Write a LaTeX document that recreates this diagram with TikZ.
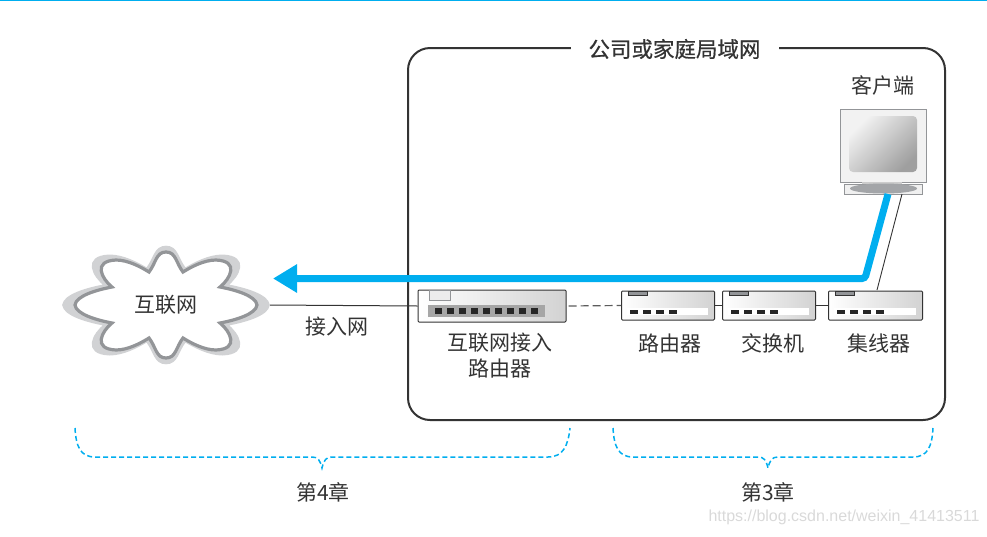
\documentclass[tikz,border=0pt]{standalone}
\usepackage{fontspec}
\usepackage{tikz}
\usetikzlibrary{arrows.meta}
\setmainfont{Noto Sans CJK SC}
\newfontfamily\titlefont[FakeBold=0.6]{Noto Sans CJK SC}
\newfontfamily\markfont{Liberation Sans}
\definecolor{netblue}{HTML}{00AEEF}
\definecolor{haze}{HTML}{D1D2D4}
\definecolor{rim}{HTML}{939598}
\definecolor{ink}{HTML}{333333}
\newcommand{\cloudpath}{(91,0) .. controls (90,-9) and (70,-15) .. (54,-18) .. controls (64,-26) and (74,-44) .. (50,-45) .. controls (38,-45) and (25,-38) .. (17,-33) .. controls (10,-42) and (10,-53) .. (0,-53)
	.. controls (-10,-53) and (-10,-42) .. (-17,-33) .. controls (-25,-38) and (-38,-45) .. (-50,-45) .. controls (-74,-44) and (-64,-26) .. (-54,-18) .. controls (-70,-15) and (-90,-9) .. (-91,0)
	.. controls (-90,9) and (-70,15) .. (-54,18) .. controls (-64,26) and (-74,44) .. (-50,45) .. controls (-38,45) and (-25,38) .. (-17,33) .. controls (-10,42) and (-10,53) .. (0,53)
	.. controls (10,53) and (10,42) .. (17,33) .. controls (25,38) and (38,45) .. (50,45) .. controls (74,44) and (64,26) .. (54,18) .. controls (70,15) and (90,9) .. (91,0) -- cycle}
\begin{document}
\begin{tikzpicture}[x=1pt,y=-1pt,every text node part/.style={align=center},
label/.style={font=\fontsize{21}{26}\selectfont,text=ink,inner sep=0pt},
device/.style={draw=ink,line width=1pt,rounded corners=1pt,left color=white,right color=gray!35,inner sep=0pt},
tab/.style={draw=ink,line width=0.7pt,fill=rim},
brace/.style={netblue,line width=1.5pt,dash pattern=on 5pt off 3pt},
wire/.style={ink,line width=1pt}]
\useasboundingbox (0,0) rectangle (987,536);
\draw[netblue,line width=1.4pt] (0,0.7) -- (987,0.7);
% the local network
\draw[ink,line width=2pt,rounded corners=22pt] (408,48) rectangle (945,420);
\node (lan) [label,fill=white,inner xsep=18pt,inner ysep=3pt,font=\titlefont\fontsize{21.5}{26}\selectfont] at (674.5,49) {公司或家庭局域网};
% cloud
\begin{scope}[shift={(166,305)}]
	\fill[haze,draw=haze,line width=2pt,xscale=1.13,yscale=1.1] \cloudpath;
	\draw[rim,line width=3.2pt,fill=white] \cloudpath;
\end{scope}
\node (inet) [label,minimum width=208pt,minimum height=60pt] at (166,305) {互联网};
% devices
\node (access) [device,minimum width=148pt,minimum height=32pt] at (492,306) {};
\draw[draw=rim,line width=1pt,fill=gray!15] (429.5,290) rectangle (450,300);
\fill[gray!70] (428,305) rectangle (545,317);
\foreach \x in {0,...,8}
	\fill[black!85] ({435+12*\x},308) rectangle ({442+12*\x},314);
\foreach \name/\x/\w in {router/621/93,switch/722/93,hub/828/94} {
	\node (\name) [device,minimum width=\w pt,minimum height=29pt,anchor=north west] at (\x,290.5) {};
	\fill[white] ({\x+6},308) rectangle ({\x+\w-6},315);
	\draw[tab] ({\x+7},291) rectangle ({\x+26},295);
	\foreach \d in {0,1,2,3}
		\fill[black!85] ({\x+9+13*\d},310) rectangle ({\x+17+13*\d},314);
}
% client
\node (screen) [draw=rim,line width=1pt,fill=gray!10,minimum width=86pt,minimum height=73pt,inner sep=0pt] at (883,145.5) {};
\shade[rounded corners=4pt,top color=gray!10,bottom color=gray!75,shading angle=45] (849,116) rectangle (917,172);
\fill[gray!40] (862,182) rectangle (902,184);
\node (base) [draw=rim,line width=1pt,fill=gray!12,minimum width=78pt,minimum height=10pt,inner sep=0pt] at (883,189) {};
\fill[rim!85] (883.5,188.5) ellipse (33.5 and 5);
% connectors
\draw[wire] (inet.east) -- (access.west);
\draw[ink!80,line width=1.2pt,dash pattern=on 8pt off 4pt,dash phase=10pt] (access.east) -- (router.west);
\draw[wire] (router.east) -- (switch.west);
\draw[wire] (switch.east) -- (hub.west);
\coordinate (basefoot) at (902,194);
\coordinate (hubtop) at (877,290);
\draw[ink,line width=0.9pt] (basefoot) -- (hubtop);
\coordinate (flowstart) at (888,194);
\coordinate (flowbend) at (865,278.5);
\coordinate (flowend) at (273,278.5);
\draw[netblue,line width=7pt,rounded corners=3pt,-{Triangle[length=24pt,width=27pt]}] (flowstart) -- (flowbend) -- (flowend);
% labels
\node (clientlabel) [label] at (883,85) {客户端};
\node (linelabel) [label] at (337,327) {接入网};
\node (accesslabel) [label] at (500,356) {互联网接入\\路由器};
\node (routerlabel) [label] at (669.5,343.5) {路由器};
\node (switchlabel) [label] at (772.5,343.5) {交换机};
\node (hublabel) [label] at (879,343.5) {集线器};
% chapters
\draw[brace] (75,428) .. controls (76,446) and (80,457) .. (95,457) -- (312,457) .. controls (318,457) and (320,460) .. (322,468) .. controls (324,460) and (326,457) .. (332,457) -- (548,457) .. controls (563,457) and (568,446) .. (570,428);
\draw[brace] (613,428) .. controls (614,446) and (618,457) .. (633,457) -- (758,457) .. controls (764,457) and (766,460) .. (768,468) .. controls (770,460) and (772,457) .. (778,457) -- (913,457) .. controls (928,457) and (932,446) .. (933,428);
\node (chapfour) [label] at (323,492) {第4章};
\node (chapthree) [label] at (768,492) {第3章};
\node (mark) [text=gray!30,inner sep=0pt,font=\markfont\fontsize{16}{18}\selectfont] at (844,517) {https://blog.csdn.net/weixin\_41413511};
\end{tikzpicture}
\end{document}
